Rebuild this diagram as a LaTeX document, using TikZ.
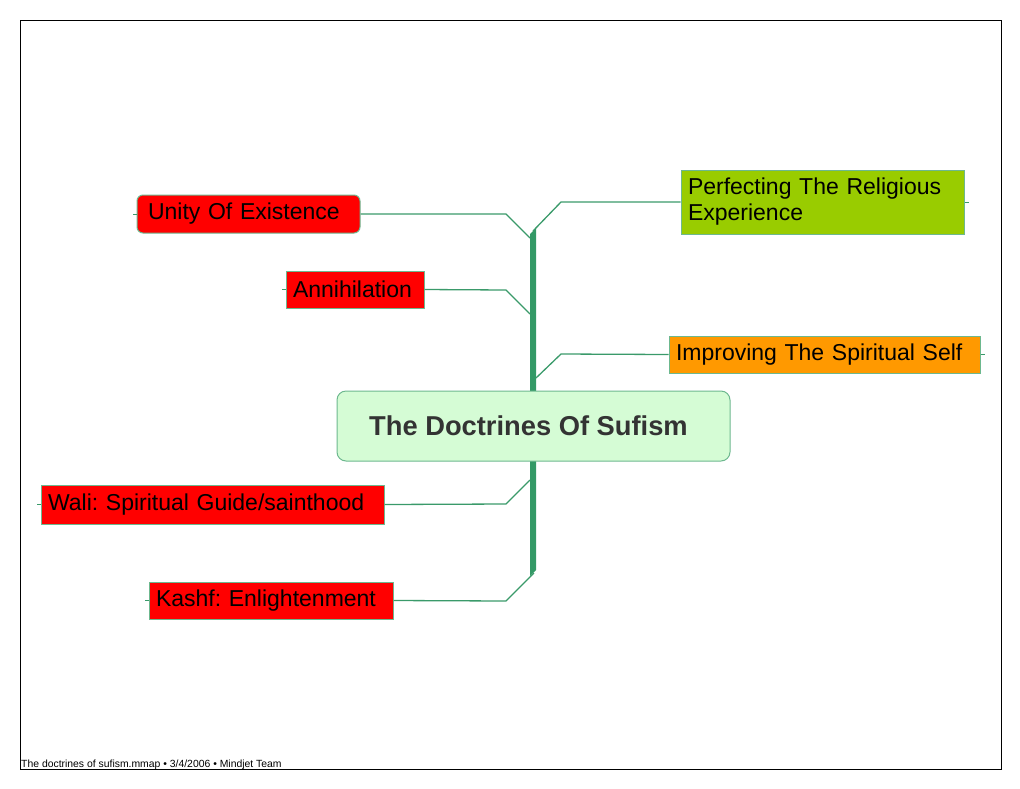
\documentclass[tikz,border=0pt]{standalone}
\usepackage{fontspec}
\setmainfont{Liberation Sans}
\usepackage{tikz}
\usetikzlibrary{positioning, calc}
\usepackage{xcolor}
\frenchspacing
\definecolor{trunkgreen}{HTML}{339966}
\definecolor{linegreen}{HTML}{3A9A6A}
\definecolor{edgegreen}{HTML}{6DB88F}
\definecolor{centrefill}{HTML}{D5FCD5}
\definecolor{leafgreen}{HTML}{99CC00}
\definecolor{leaforange}{HTML}{FF9900}
\definecolor{titlegray}{HTML}{333333}

\tikzset{
  topic/.style={draw=edgegreen, line width=1pt, inner xsep=7pt, inner ysep=0pt,
    align=left, font=\fontsize{23}{26}\selectfont, text=black},
  branch/.style={draw=linegreen, line width=1.3pt},
}

\begin{document}
\begin{tikzpicture}[x=1pt,y=-1pt]
  \useasboundingbox (0,0) rectangle (1020,788);
  % Page frame and footer
  \draw[line width=0.8pt] (20,20) rectangle (1001,769);
  \node[anchor=base west, inner sep=0pt, font=\fontsize{10.4}{11}\selectfont] (footer) at (21,767)
    {The doctrines of sufism.mmap • 3/4/2006 • Mindjet Team};
  % Trunk
  \fill[trunkgreen] (530,234) -- (536,228) -- (536,570) -- (530,576) -- cycle;
  \coordinate (jperf) at (533,231);
  \coordinate (jimpr) at (536,378);
  \coordinate (junity) at (530,238);
  \coordinate (jann) at (530,314);
  \coordinate (jwali) at (530,480);
  \coordinate (jkashf) at (534,573);
  % Central topic
  \node[draw=edgegreen, fill=centrefill, rounded corners=9pt, line width=1pt,
    minimum width=393pt, minimum height=70pt, text=titlegray,
    font=\bfseries\fontsize{27.3}{30}\selectfont] (centre) at (533.5,426)
    {\raisebox{-1.5pt}{The Doctrines Of Sufism}\hspace*{10pt}};
  % Left topics
  \node[topic, fill=red, rounded corners=6pt, inner xsep=11pt, text width=201pt, minimum height=38pt]
    (unity) at (248.5,214) {\raisebox{-1.5pt}{Unity Of Existence}};
  \node[topic, fill=red, text width=124pt, minimum height=37pt]
    (ann) at (355,289.5) {\raisebox{-1.5pt}{Annihilation}};
  \node[topic, fill=red, text width=329pt, minimum height=39pt]
    (wali) at (212.5,504.5) {\raisebox{-1.5pt}{Wali: Spiritual Guide/sainthood}};
  \node[topic, fill=red, text width=230pt, minimum height=37pt]
    (kashf) at (271,600.5) {\raisebox{-1.5pt}{Kashf: Enlightenment}};
  % Right topics
  \node[topic, fill=leafgreen, text width=269pt, minimum height=64pt]
    (perf) at (822.5,202) {Perfecting The Religious\\Experience};
  \node[topic, fill=leaforange, text width=297pt, minimum height=37pt]
    (impr) at (824.5,354.5) {\raisebox{-1.5pt}{Improving The Spiritual Self}};
  % Branches
  \draw[branch] (unity.east) -- (506,214) -- (junity);
  \draw[branch] (ann.east) -- (506,290) -- (jann);
  \draw[branch] (wali.east) -- (506,504) -- (jwali);
  \draw[branch] (kashf.east) -- (506,601) -- (jkashf);
  \draw[branch] (jperf) -- (561,202) -- (perf.west);
  \draw[branch] (jimpr) -- (561,354) -- (impr.west);
  % Stubs
  \draw[branch, line width=0.8pt] (unity.west) -- ++(-4,0);
  \draw[branch, line width=0.8pt] (ann.west) -- ++(-4,0);
  \draw[branch, line width=0.8pt] (wali.west) -- ++(-4,0);
  \draw[branch, line width=0.8pt] (kashf.west) -- ++(-4,0);
  \draw[branch, line width=0.8pt] (perf.east) -- ++(4,0);
  \draw[branch, line width=0.8pt] (impr.east) -- ++(4,0);
\end{tikzpicture}
\end{document}
